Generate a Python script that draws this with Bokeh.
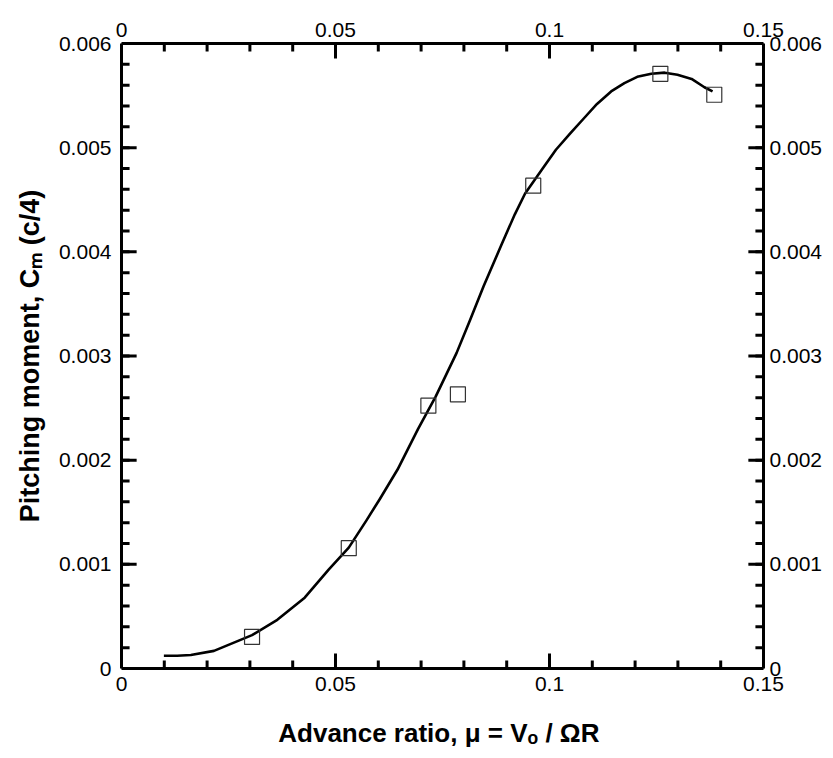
from bokeh.plotting import figure
from bokeh.models import LinearAxis, Range1d, FixedTicker, CustomJSTickFormatter
from bokeh.embed import file_html
from bokeh.resources import INLINE

# measured points (squares)
mu_pts = [0.0305, 0.0531, 0.0717, 0.0786, 0.0962, 0.1259, 0.1385]
cm_pts = [0.000303, 0.001155, 0.002523, 0.002632, 0.004635, 0.005709, 0.005508]

# fitted curve
mu_fit = [0.0099, 0.0130, 0.0162, 0.0216, 0.0305, 0.0364, 0.0428, 0.0484, 0.0531,
          0.0572, 0.0604, 0.0645, 0.0693, 0.0734, 0.0783, 0.0814, 0.0846, 0.0888,
          0.0919, 0.0943, 0.0984, 0.1015, 0.1049, 0.1080, 0.1111, 0.1144, 0.1175,
          0.1205, 0.1238, 0.1269, 0.1299, 0.1332, 0.1362, 0.1381]
cm_fit = [0.000122, 0.000122, 0.000130, 0.000169, 0.00032, 0.000467, 0.00068, 0.00095, 0.00116,
          0.00142, 0.00163, 0.00191, 0.00230, 0.00261, 0.00303, 0.00334, 0.00367, 0.00407,
          0.00436, 0.00456, 0.00480, 0.00498, 0.00514, 0.00528, 0.00542, 0.00554, 0.00562,
          0.00568, 0.00571, 0.00572, 0.00570, 0.00566, 0.00558, 0.00554]

x_start, x_end = 0, 0.15
y_start, y_end = 0, 0.006
x_ticks = [0, 0.05, 0.1, 0.15]
x_minor = [i / 100 for i in range(0, 16)]
y_ticks = [0, 0.001, 0.002, 0.003, 0.004, 0.005, 0.006]
y_minor = [i * 0.0002 for i in range(0, 31)]

x_label = "Advance ratio,  \u03bc = V\u2092 / \u03a9R"
y_label = "Pitching moment, C\u2098 (c/4)"

p = figure(width=825, height=750, output_backend="svg", toolbar_location=None,
           x_range=Range1d(x_start, x_end), y_range=Range1d(y_start, y_end),
           x_axis_location=None, y_axis_location=None,
           min_border_left=121, min_border_right=62, min_border_top=43, min_border_bottom=73)
p.grid.visible = False
p.outline_line_color = None

fmt = CustomJSTickFormatter(code="return String(Number(tick.toPrecision(6)));")

def style(ax, standoff):
    ax.axis_line_width = 3
    ax.axis_line_color = "black"
    ax.major_tick_in = 0
    ax.major_tick_out = 0
    ax.minor_tick_in = 0
    ax.minor_tick_out = 0
    ax.major_label_text_font = "Liberation Sans"
    ax.major_label_text_font_size = "21px"
    ax.major_label_text_color = "black"
    ax.major_label_standoff = standoff
    ax.formatter = fmt
    ax.axis_label_text_font = "Liberation Sans"
    ax.axis_label_text_font_style = "bold"
    ax.axis_label_text_color = "black"

xb = LinearAxis(ticker=FixedTicker(ticks=x_ticks, minor_ticks=x_minor))
style(xb, 8)
xb.axis_label = x_label
xb.axis_label_text_font_size = "26px"
xb.axis_label_standoff = 24
p.add_layout(xb, "below")

xt = LinearAxis(ticker=FixedTicker(ticks=x_ticks, minor_ticks=x_minor))
style(xt, 7)
p.add_layout(xt, "above")

yl = LinearAxis(ticker=FixedTicker(ticks=y_ticks, minor_ticks=y_minor))
style(yl, 10)
yl.axis_label = y_label
yl.axis_label_text_font_size = "27px"
yl.axis_label_standoff = 11
p.add_layout(yl, "left")

yr = LinearAxis(ticker=FixedTicker(ticks=y_ticks, minor_ticks=y_minor))
style(yr, 6)
p.add_layout(yr, "right")

# inward ticks, one multi_line per side and size; pixel lengths converted to data units
frame_w = 636.0
frame_h = 625.0
def dx(px):
    return (x_end - x_start) * px / frame_w
def dy(px):
    return (y_end - y_start) * px / frame_h

for ticks, ln in ((x_minor, 8), (x_ticks, 15)):
    bx, by = [], []
    for t in ticks:
        bx.append([t, t]); by.append([y_start, y_start + dy(ln)])
    p.multi_line(xs=bx, ys=by, line_color="black", line_width=3)
    tx, ty = [], []
    for t in ticks:
        tx.append([t, t]); ty.append([y_end, y_end - dy(ln)])
    p.multi_line(xs=tx, ys=ty, line_color="black", line_width=3)

for ticks, ln in ((y_minor, 8), (y_ticks, 15)):
    lx, ly = [], []
    for t in ticks:
        lx.append([x_start, x_start + dx(ln)]); ly.append([t, t])
    p.multi_line(xs=lx, ys=ly, line_color="black", line_width=3)
    rx, ry = [], []
    for t in ticks:
        rx.append([x_end, x_end - dx(ln)]); ry.append([t, t])
    p.multi_line(xs=rx, ys=ry, line_color="black", line_width=3)

p.line(mu_fit, cm_fit, line_color="black", line_width=2.6, line_join="round")
p.scatter(mu_pts, cm_pts, marker="square", size=15, fill_color=None,
          line_color="#333333", line_width=1.2)

open("out.html", "w").write(file_html(p, INLINE))
